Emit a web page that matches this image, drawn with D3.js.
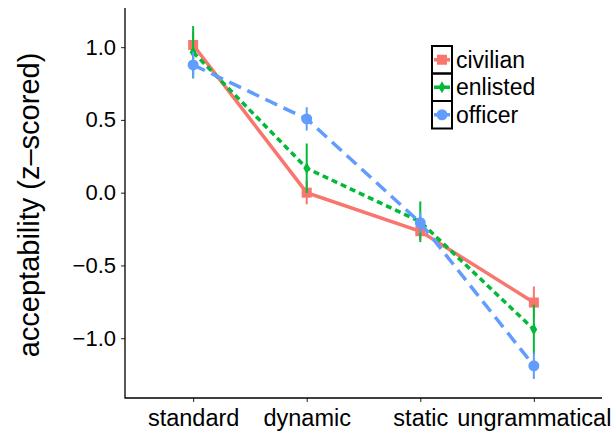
<!DOCTYPE html>
<meta charset="utf-8">
<script src="https://d3js.org/d3.v7.min.js"></script>
<style>
  body { margin: 0; background: #fff; }
  text { font-family: "Liberation Sans", Arial, sans-serif; }
</style>
<body>
<div id="chart"></div>
<script>
  // data
  const conditions = ["standard", "dynamic", "static", "ungrammatical"];
  const groups = ["civilian", "enlisted", "officer"];
  const civilianMean = [1.015, 0.0, -0.265, -0.755];
  const civilianErr = [0.09, 0.08, 0.06, 0.11];
  const enlistedMean = [0.965, 0.168, -0.2, -0.94];
  const enlistedErr = [0.18, 0.17, 0.14, 0.17];
  const officerMean = [0.878, 0.507, -0.206, -1.19];
  const officerErr = [0.09, 0.08, 0.07, 0.09];
  const yTicks = [-1.0, -0.5, 0.0, 0.5, 1.0];

  const colors = ["#F8766D", "#00BA38", "#619CFF"];
  const dashes = [null, "6,4", "13,7"];

  const series = groups.map((g, i) => ({
    name: g,
    color: colors[i],
    dash: dashes[i],
    values: conditions.map((c, j) => ({
      cond: c,
      mean: [civilianMean, enlistedMean, officerMean][i][j],
      err: [civilianErr, enlistedErr, officerErr][i][j]
    }))
  }));

  const W = 612, H = 432;
  const svg = d3.select("#chart").append("svg")
    .attr("width", W).attr("height", H);

  const x = d3.scalePoint().domain(conditions).range([125, 602]).padding(0.6);
  const y = d3.scaleLinear().domain([-1.411, 1.269]).range([398, 8]);

  // y axis
  const yAxis = svg.append("g")
    .attr("transform", "translate(125,0)")
    .call(d3.axisLeft(y).tickValues(yTicks).tickFormat(d => d3.format(".1f")(d).replace("-", "\u2212"))
      .tickSize(4).tickPadding(5));
  yAxis.select(".domain").remove();
  yAxis.selectAll(".tick line").attr("stroke", "#333").attr("stroke-width", 1.1);
  yAxis.selectAll(".tick text").attr("font-size", 22).attr("fill", "#000")
    .style("font-family", "'Liberation Sans', Arial, sans-serif");

  // x axis
  const xAxis = svg.append("g")
    .attr("transform", "translate(0,398)")
    .call(d3.axisBottom(x).tickSize(4).tickPadding(7));
  xAxis.select(".domain").remove();
  xAxis.selectAll(".tick line").attr("stroke", "#333").attr("stroke-width", 1.1);
  xAxis.selectAll(".tick text").attr("font-size", 23.5).attr("fill", "#000")
    .style("font-family", "'Liberation Sans', Arial, sans-serif");

  // axis lines
  svg.append("path")
    .attr("d", "M125,8V398H602")
    .attr("fill", "none").attr("stroke", "#000").attr("stroke-width", 1.3);

  // y title
  svg.append("text")
    .attr("transform", "translate(39,205) rotate(-90)")
    .attr("text-anchor", "middle")
    .attr("font-size", 29)
    .text("acceptability (z\u2013scored)");

  const line = d3.line().x(d => x(d.cond)).y(d => y(d.mean));

  const sym = [d3.symbolSquare, d3.symbolDiamond, d3.symbolCircle];
  const symSize = [100, 40, 95];

  series.forEach((s, i) => {
    const g = svg.append("g");
    g.selectAll("line.err")
      .data(s.values)
      .join("line")
      .attr("x1", d => x(d.cond)).attr("x2", d => x(d.cond))
      .attr("y1", d => y(d.mean + d.err)).attr("y2", d => y(d.mean - d.err))
      .attr("stroke", s.color).attr("stroke-width", 2);
    g.append("path")
      .datum(s.values)
      .attr("d", line)
      .attr("fill", "none")
      .attr("stroke", s.color)
      .attr("stroke-width", 3.5)
      .attr("stroke-dasharray", s.dash);
    g.selectAll("path.pt")
      .data(s.values)
      .join("path")
      .attr("class", "pt")
      .attr("transform", d => `translate(${x(d.cond)},${y(d.mean)})`)
      .attr("d", d3.symbol(sym[i], symSize[i]))
      .attr("fill", s.color);
  });

  // legend
  const lg = svg.append("g").attr("transform", "translate(432,46)");
  const keyW = 20, keyH = 27.5;
  series.forEach((s, i) => {
    const k = lg.append("g").attr("transform", `translate(0,${i * keyH})`);
    k.append("line")
      .attr("x1", 2).attr("x2", keyW - 2)
      .attr("y1", keyH / 2).attr("y2", keyH / 2)
      .attr("stroke", s.color).attr("stroke-width", 3.5);
    k.append("path")
      .attr("transform", `translate(${keyW / 2},${keyH / 2})`)
      .attr("d", d3.symbol(sym[i], symSize[i]))
      .attr("fill", s.color);
    k.append("rect")
      .attr("x", 0).attr("y", 0).attr("width", keyW).attr("height", keyH)
      .attr("fill", "none").attr("stroke", "#000").attr("stroke-width", 2);
    k.append("text")
      .attr("x", keyW + 4).attr("y", keyH / 2 + 8)
      .attr("font-size", 23)
      .text(s.name);
  });
</script>
</body>
